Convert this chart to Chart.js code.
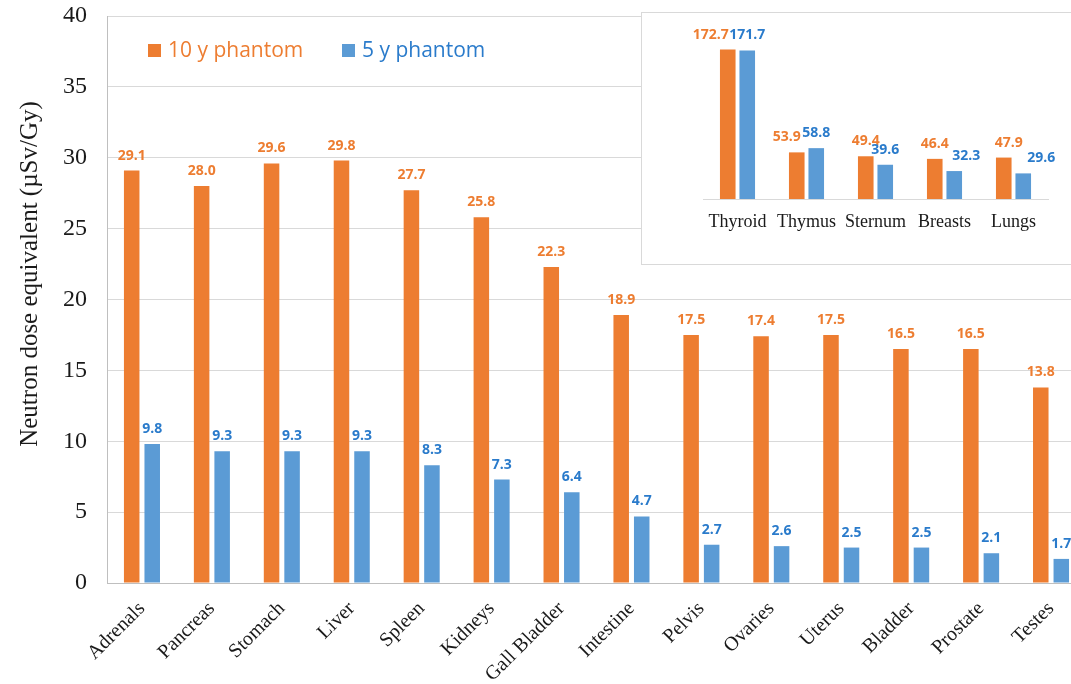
<!DOCTYPE html>
<html><head><meta charset="utf-8">
<script src="https://cdn.jsdelivr.net/npm/chart.js@4"></script>
<style>
html,body{margin:0;padding:0;background:#fff;overflow:hidden;width:1071px;height:684px}
#wrap{position:relative;width:1071px;height:684px;overflow:hidden;background:#fff}
#main{position:absolute;left:0;top:0;width:1090px;height:684px}
#insetBox{position:absolute;left:641px;top:12px;width:438px;height:251px;border:1px solid #d9d9d9;background:#fff}
#inset{position:absolute;left:0;top:0;width:438px;height:251px}
</style></head><body>
<div id="wrap">
<canvas id="main" width="1090" height="684"></canvas>
<div id="insetBox"><canvas id="inset" width="438" height="251"></canvas></div>
</div>
<script>
const categories = ['Adrenals','Pancreas','Stomach','Liver','Spleen','Kidneys','Gall Bladder','Intestine','Pelvis','Ovaries','Uterus','Bladder','Prostate','Testes'];
const tenYear = [29.1,28.0,29.6,29.8,27.7,25.8,22.3,18.9,17.5,17.4,17.5,16.5,16.5,13.8];
const fiveYear = [9.8,9.3,9.3,9.3,8.3,7.3,6.4,4.7,2.7,2.6,2.5,2.5,2.1,1.7];
const yTickLabels = ['0','5','10','15','20','25','30','35','40'];
const insetCategories = ['Thyroid','Thymus','Sternum','Breasts','Lungs'];
const insetTenYear = [172.7,53.9,49.4,46.4,47.9];
const insetFiveYear = [171.7,58.8,39.6,32.3,29.6];
const seriesNames = ['10 y phantom','5 y phantom'];
const axisTitle = 'Neutron dose equivalent (\u00B5Sv/Gy)';

const ORANGE = '#ED7D31', BLUE = '#5B9BD5';
const ORANGE_TXT = '#ED7D31', BLUE_TXT = '#2A7BCB';
const SERIF = '"Liberation Serif","Times New Roman",serif';
const SANS = '"Open Sans","Liberation Sans",sans-serif';

const valueLabels = {
  id: 'valueLabels',
  afterDatasetsDraw(chart, args, opts) {
    const ctx = chart.ctx;
    ctx.save();
    ctx.font = opts.font;
    ctx.textAlign = 'center';
    ctx.textBaseline = 'alphabetic';
    chart.data.datasets.forEach((ds, i) => {
      const meta = chart.getDatasetMeta(i);
      ctx.fillStyle = opts.colors[i];
      meta.data.forEach((bar, j) => {
        const dx = (opts.nudge && opts.nudge[i] && opts.nudge[i][j]) || 0;
        ctx.fillText(ds.data[j].toFixed(1), bar.x + dx, bar.y - opts.offset);
      });
    });
    ctx.restore();
  }
};

const mainDecor = {
  id: 'mainDecor',
  afterDraw(chart) {
    const ctx = chart.ctx;
    ctx.save();
    ctx.font = '25px ' + SERIF;
    ctx.fillStyle = '#1a1a1a';
    ctx.textAlign = 'center';
    ctx.textBaseline = 'middle';
    ctx.translate(30, 274);
    ctx.rotate(-Math.PI / 2);
    ctx.fillText(axisTitle, 0, 0);
    ctx.restore();
    ctx.save();
    ctx.font = '21px ' + SANS;
    ctx.textBaseline = 'middle';
    ctx.textAlign = 'left';
    const items = [{x:148, c:ORANGE, t:ORANGE_TXT},{x:342, c:BLUE, t:BLUE_TXT}];
    items.forEach((it, i) => {
      ctx.fillStyle = it.c;
      ctx.fillRect(it.x, 44, 13, 13);
      ctx.fillStyle = it.t;
      ctx.fillText(seriesNames[i], it.x + 20, 51);
    });
    ctx.restore();
  }
};

new Chart(document.getElementById('main'), {
  type: 'bar',
  data: {
    labels: categories,
    datasets: [
      {label: seriesNames[0], data: tenYear, backgroundColor: ORANGE, categoryPercentage: 0.587, barPercentage: 0.756},
      {label: seriesNames[1], data: fiveYear, backgroundColor: BLUE, categoryPercentage: 0.587, barPercentage: 0.756}
    ]
  },
  options: {
    responsive: false,
    animation: false,
    devicePixelRatio: 1,
    layout: {padding: {left: 0, right: 4, top: 16, bottom: 0}, autoPadding: false},
    plugins: {
      legend: {display: false},
      tooltip: {enabled: false},
      valueLabels: {font: 'bold 14px ' + SANS, colors: [ORANGE_TXT, BLUE_TXT], offset: 11}
    },
    scales: {
      x: {
        grid: {display: false},
        border: {display: true, color: '#bfbfbf', width: 1},
        ticks: {color: '#1a1a1a', font: {family: SERIF, size: 20}, minRotation: 45, maxRotation: 45, padding: 6, autoSkip: false},
        afterFit(s) { s.height = 101; s.paddingLeft = 0; s.paddingRight = 0; }
      },
      y: {
        min: 0, max: 40,
        grid: {color: '#d9d9d9', drawTicks: false},
        border: {display: true, color: '#bfbfbf'},
        ticks: {stepSize: 5, color: '#1a1a1a', font: {family: SERIF, size: 24}, padding: 20,
          callback: (v, i) => yTickLabels[i]},
        afterFit(s) { s.width = 107; s.paddingTop = 0; s.paddingBottom = 0; }
      }
    }
  },
  plugins: [valueLabels, mainDecor]
});

new Chart(document.getElementById('inset'), {
  type: 'bar',
  data: {
    labels: insetCategories,
    datasets: [
      {label: seriesNames[0], data: insetTenYear, backgroundColor: ORANGE, categoryPercentage: 0.565, barPercentage: 0.8},
      {label: seriesNames[1], data: insetFiveYear, backgroundColor: BLUE, categoryPercentage: 0.565, barPercentage: 0.8}
    ]
  },
  options: {
    responsive: false,
    animation: false,
    devicePixelRatio: 1,
    layout: {padding: {left: 61, right: 32, top: 13, bottom: 0}, autoPadding: false},
    plugins: {
      legend: {display: false},
      tooltip: {enabled: false},
      valueLabels: {font: 'bold 14px ' + SANS, colors: [ORANGE_TXT, BLUE_TXT], offset: 11,
        nudge: [[-17,-10,0,0,5],[0,0,0,12,18]]}
    },
    scales: {
      x: {
        grid: {display: false},
        border: {display: true, color: '#d9d9d9'},
        ticks: {color: '#1a1a1a', font: {family: SERIF, size: 18}, maxRotation: 0, padding: 4, autoSkip: false},
        afterFit(s) { s.height = 65; s.paddingLeft = 0; s.paddingRight = 0; }
      },
      y: {display: false, min: 0, max: 200}
    }
  },
  plugins: [valueLabels]
});
</script>
</body></html>
